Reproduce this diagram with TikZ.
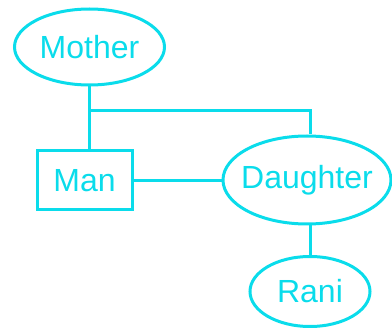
\documentclass[tikz,border=0pt]{standalone}
\usepackage{fontspec}
\setmainfont{Liberation Sans}
\usetikzlibrary{shapes.geometric}
\definecolor{lineColor}{RGB}{10,220,235}

\begin{document}
\begin{tikzpicture}[x=1pt,y=-1pt]

          \tikzstyle{personNode} = [ellipse, draw=lineColor, line width=3pt, text=lineColor, inner sep=0pt, font=\fontsize{32}{38}\selectfont];
          \tikzstyle{boxNode} = [rectangle, draw=lineColor, line width=3pt, text=lineColor, inner sep=0pt, font=\fontsize{32}{38}\selectfont];
          
          \tikzstyle{familyEdge} = [line width=3pt, lineColor];

          \useasboundingbox (0,0) rectangle (392,329);
          
          \node[personNode, minimum width=150pt, minimum height=76pt] (mother) at (89.5,47) {Mother};
          \node[boxNode, minimum width=95pt, minimum height=59pt] (man) at (84.5,180.5) {Man};
          \node[personNode, inner xsep=-7pt, minimum width=168pt, minimum height=88pt] (daughter) at (307,180) {Daughter};
          \node[personNode, minimum width=120pt, minimum height=70pt] (rani) at (310,291.5) {Rani};
          \coordinate (split) at (89,111);

          \draw[familyEdge] (mother.south -| split) -- (man.north -| split);
          \draw[familyEdge] (split) -| ([xshift=3pt]daughter.north);
          \draw[familyEdge] (man.east) -- (man.east -| daughter.west);
          \draw[familyEdge] (daughter.south -| rani.north) -- (rani.north);
        \end{tikzpicture}
\end{document}
